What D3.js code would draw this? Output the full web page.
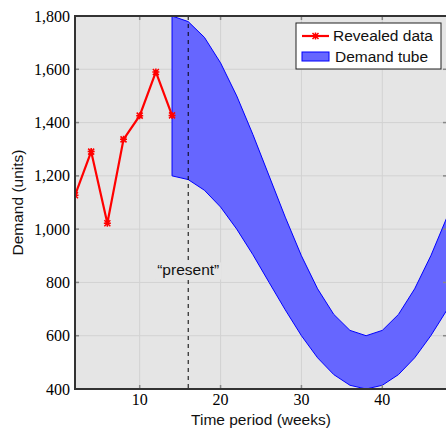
<!DOCTYPE html>
<html>
<head>
<meta charset="utf-8">
<script src="https://cdn.jsdelivr.net/npm/d3@7"></script>
<style>
  body { margin: 0; background: #fff; }
  svg { display: block; }
</style>
</head>
<body>
<div id="chart"></div>
<script>
// revealed demand data (weeks 2..14)
const revealedWeeks = [2, 4, 6, 8, 10, 12, 14];
const revealedDemand = [1127, 1291, 1022, 1337, 1426, 1590, 1427];

// demand tube, every two weeks from 14 onward
const tubeWeeks = [14, 16, 18, 20, 22, 24, 26, 28, 30, 32, 34, 36, 38, 40, 42, 44, 46, 48];
const tubeUpper = [1800, 1779, 1720, 1624, 1500, 1355, 1200, 1045, 900, 776, 680, 620, 600, 620, 680, 776, 900, 1045];
const tubeLower = [1200, 1186, 1146, 1083, 1000, 904, 800, 697, 600, 517, 454, 414, 400, 414, 454, 517, 600, 697];

const presentWeek = 16;
const xTicks = [10, 20, 30, 40];
const yTicks = [400, 600, 800, 1000, 1200, 1400, 1600, 1800];

const SANS = "'Liberation Sans', Arial, sans-serif";
const SERIF = "'Liberation Serif', 'Times New Roman', serif";

const totalW = 446, totalH = 431;
const margin = {top: 16, right: -1, bottom: 42, left: 75};
const W = totalW - margin.left - margin.right;
const H = totalH - margin.top - margin.bottom;

const svg = d3.select('#chart').append('svg')
  .attr('width', totalW)
  .attr('height', totalH);

const defs = svg.append('defs');
defs.append('clipPath').attr('id', 'plotclip')
  .append('rect').attr('width', W).attr('height', H);

const g = svg.append('g')
  .attr('transform', `translate(${margin.left} ${margin.top})`);

const x = d3.scaleLinear().domain([2, 48]).range([0, W]);
const y = d3.scaleLinear().domain([400, 1800]).range([H, 0]);

// background
g.append('rect')
  .attr('width', W).attr('height', H)
  .attr('fill', '#e5e5e5');

// grid
g.selectAll('.vgrid').data(xTicks).enter().append('line')
  .attr('x1', d => x(d)).attr('x2', d => x(d))
  .attr('y1', 0).attr('y2', H)
  .attr('stroke', '#d2d2d2').attr('stroke-width', 1);
g.selectAll('.hgrid').data(yTicks).enter().append('line')
  .attr('y1', d => y(d)).attr('y2', d => y(d))
  .attr('x1', 0).attr('x2', W)
  .attr('stroke', '#d2d2d2').attr('stroke-width', 1);

const plot = g.append('g').attr('clip-path', 'url(#plotclip)');

// demand tube
const tube = tubeWeeks.map((w, i) => ({w: w, hi: tubeUpper[i], lo: tubeLower[i]}));
plot.append('path')
  .datum(tube)
  .attr('d', d3.area().x(d => x(d.w)).y0(d => y(d.lo)).y1(d => y(d.hi)))
  .attr('fill', '#6666ff')
  .attr('stroke', '#0000ff')
  .attr('stroke-width', 1);

// revealed data
const rev = revealedWeeks.map((w, i) => ({w: w, v: revealedDemand[i]}));
plot.append('path')
  .datum(rev)
  .attr('d', d3.line().x(d => x(d.w)).y(d => y(d.v)))
  .attr('fill', 'none')
  .attr('stroke', '#ff0000')
  .attr('stroke-width', 2.2)
  .attr('stroke-linejoin', 'miter');

const star = 'M-3,-3L3,3M-3,3L3,-3M0,-3.5L0,3.5M-3.5,0L3.5,0';
plot.selectAll('.mark').data(rev).enter().append('path')
  .attr('transform', d => `translate(${x(d.w)} ${y(d.v)})`)
  .attr('d', star)
  .attr('stroke', '#ff0000')
  .attr('stroke-width', 1.5)
  .attr('fill', 'none');

// present marker
g.append('line')
  .attr('x1', x(presentWeek)).attr('x2', x(presentWeek))
  .attr('y1', 0).attr('y2', H)
  .attr('stroke', '#000')
  .attr('stroke-width', 1)
  .attr('stroke-dasharray', '4,4');

// label sits on a patch of background so the dashes break around it
const pLabel = g.append('g')
  .attr('transform', `translate(${x(presentWeek)} ${y(800) - 7})`);
pLabel.append('rect')
  .attr('x', -33).attr('y', -13).attr('width', 66).attr('height', 17)
  .attr('fill', '#e5e5e5');
pLabel.append('text')
  .attr('text-anchor', 'middle')
  .attr('font-family', SANS)
  .attr('font-size', 15.5)
  .attr('fill', '#111')
  .text('\u201cpresent\u201d');

// tick marks (inward)
const tickCol = '#888';
g.selectAll('.tb').data(xTicks).enter().append('line')
  .attr('x1', d => x(d)).attr('x2', d => x(d))
  .attr('y1', H).attr('y2', H - 4)
  .attr('stroke', tickCol).attr('stroke-width', 1.5);
g.selectAll('.tt').data(xTicks).enter().append('line')
  .attr('x1', d => x(d)).attr('x2', d => x(d))
  .attr('y1', 0).attr('y2', 4)
  .attr('stroke', tickCol).attr('stroke-width', 1.5);
g.selectAll('.tl').data(yTicks).enter().append('line')
  .attr('x1', 0).attr('x2', 4)
  .attr('y1', d => y(d)).attr('y2', d => y(d))
  .attr('stroke', tickCol).attr('stroke-width', 1.5);
g.selectAll('.tr').data(yTicks).enter().append('line')
  .attr('x1', W).attr('x2', W - 4)
  .attr('y1', d => y(d)).attr('y2', d => y(d))
  .attr('stroke', tickCol).attr('stroke-width', 1.5);

// frame
g.append('rect')
  .attr('width', W).attr('height', H)
  .attr('fill', 'none')
  .attr('stroke', '#333')
  .attr('stroke-width', 2);

// tick labels
const fmt = d3.format(',');
g.selectAll('.yl').data(yTicks).enter().append('text')
  .attr('x', -5)
  .attr('y', d => y(d))
  .attr('dy', '0.35em')
  .attr('text-anchor', 'end')
  .attr('font-family', SERIF)
  .attr('font-size', 16)
  .attr('fill', '#000')
  .text(d => fmt(d));
g.selectAll('.xl').data(xTicks).enter().append('text')
  .attr('x', d => x(d))
  .attr('y', H + 16)
  .attr('text-anchor', 'middle')
  .attr('font-family', SERIF)
  .attr('font-size', 16)
  .attr('fill', '#000')
  .text(d => d);

// axis titles
svg.append('text')
  .attr('x', margin.left + W / 2)
  .attr('y', totalH - 6)
  .attr('text-anchor', 'middle')
  .attr('font-family', SANS)
  .attr('font-size', 15.5)
  .attr('fill', '#111')
  .text('Time period (weeks)');
svg.append('text')
  .attr('transform', `translate(23 ${margin.top + H / 2}) rotate(-90)`)
  .attr('text-anchor', 'middle')
  .attr('font-family', SANS)
  .attr('font-size', 15.5)
  .attr('fill', '#111')
  .text('Demand (units)');

// legend
const lg = svg.append('g').attr('transform', 'translate(296 23)');
lg.append('rect')
  .attr('width', 145).attr('height', 46)
  .attr('fill', '#fff')
  .attr('stroke', '#222')
  .attr('stroke-width', 1);
lg.append('line')
  .attr('x1', 6).attr('x2', 33).attr('y1', 13).attr('y2', 13)
  .attr('stroke', '#ff0000').attr('stroke-width', 2.2);
lg.append('path')
  .attr('transform', 'translate(19.5 13)')
  .attr('d', star)
  .attr('stroke', '#ff0000').attr('stroke-width', 1.5);
lg.append('rect')
  .attr('x', 6).attr('y', 29).attr('width', 27).attr('height', 9)
  .attr('fill', '#6666ff').attr('stroke', '#0000ff').attr('stroke-width', 1);
lg.append('text')
  .attr('x', 37).attr('y', 13).attr('dy', '0.35em')
  .attr('font-family', SANS)
  .attr('font-size', 15.5).attr('fill', '#111')
  .text('Revealed data');
lg.append('text')
  .attr('x', 39).attr('y', 33.5).attr('dy', '0.35em')
  .attr('font-family', SANS)
  .attr('font-size', 15.5).attr('fill', '#111')
  .text('Demand tube');
</script>
</body>
</html>
